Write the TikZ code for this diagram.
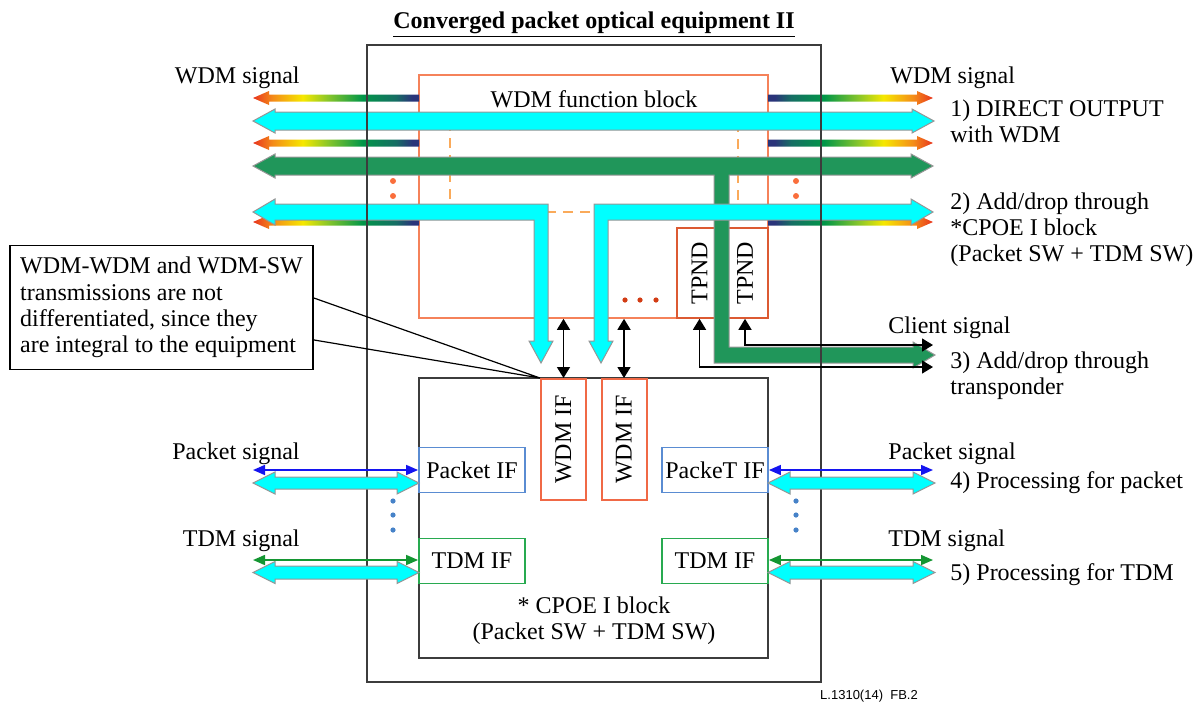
\documentclass[tikz,border=0pt]{standalone}
\usepackage{fontspec}
\setmainfont{Liberation Serif}
\newfontfamily\figidfont{Liberation Sans}
\usetikzlibrary{arrows.meta,calc}

\definecolor{rbred}{RGB}{232,52,30}
\definecolor{rborange}{RGB}{244,140,24}
\definecolor{rbyellow}{RGB}{246,232,0}
\definecolor{rbyg}{RGB}{130,196,44}
\definecolor{rbgreen}{RGB}{0,150,72}
\definecolor{rbteal}{RGB}{22,110,100}
\definecolor{rbnavy}{RGB}{42,52,122}
\definecolor{fatcyan}{RGB}{0,255,255}
\definecolor{fatgreen}{RGB}{32,150,90}
\definecolor{edgegray}{RGB}{150,150,150}
\definecolor{framegray}{RGB}{60,60,60}
\definecolor{wdmorange}{RGB}{245,130,90}
\definecolor{iforange}{RGB}{240,105,70}
\definecolor{tpndred}{RGB}{220,90,50}
\definecolor{dotorange}{RGB}{250,110,60}
\definecolor{dotred}{RGB}{210,60,20}
\definecolor{dashorange}{RGB}{250,170,90}
\definecolor{pktblue}{RGB}{90,140,210}
\definecolor{sigblue}{RGB}{20,20,240}
\definecolor{tdmgreen}{RGB}{40,170,80}
\definecolor{siggreen}{RGB}{20,150,50}
\definecolor{dotblue}{RGB}{70,130,200}

\pgfdeclarehorizontalshading{rbleft}{100bp}{color(0bp)=(rbred); color(25bp)=(rbred); color(31bp)=(rborange); color(40bp)=(rbyellow); color(48bp)=(rbyg); color(58bp)=(rbgreen); color(68bp)=(rbteal); color(73bp)=(rbnavy); color(100bp)=(rbnavy)}
\pgfdeclarehorizontalshading{rbright}{100bp}{color(0bp)=(rbnavy); color(27bp)=(rbnavy); color(32bp)=(rbteal); color(42bp)=(rbgreen); color(52bp)=(rbyg); color(60bp)=(rbyellow); color(69bp)=(rborange); color(75bp)=(rbred); color(100bp)=(rbred)}

% WDM signal leaving the block, to the left / to the right
\newcommand{\wdmleft}[1]{\shade[shading=rbleft] (253,#1) -- (269,{#1-7}) -- (269,{#1-3.5}) -- (419,{#1-3.5}) -- (419,{#1+3.5}) -- (269,{#1+3.5}) -- (269,{#1+7}) -- cycle;}
\newcommand{\wdmright}[1]{\shade[shading=rbright] (933,#1) -- (917,{#1-7}) -- (917,{#1-3.5}) -- (768,{#1-3.5}) -- (768,{#1+3.5}) -- (917,{#1+3.5}) -- (917,{#1+7}) -- cycle;}
% fat two-headed arrow: style, x1, x2, y, half shaft, half head
\newcommand{\fatdbl}[6]{\draw[#1] (#2,#4) -- ({#2+22},{#4-#6}) -- ({#2+22},{#4-#5}) -- ({#3-22},{#4-#5}) -- ({#3-22},{#4-#6}) -- (#3,#4) -- ({#3-22},{#4+#6}) -- ({#3-22},{#4+#5}) -- ({#2+22},{#4+#5}) -- ({#2+22},{#4+#6}) -- cycle;}

\begin{document}
\begin{tikzpicture}[x=0.5pt,y=-0.5pt,
  every node/.style={inner sep=0pt, font=\fontsize{12}{13.2}\selectfont},
  wdmbox/.style={draw=wdmorange, line width=0.8pt},
  ifwdm/.style={draw=iforange, line width=1pt, fill=white, minimum width=22.5pt, minimum height=60.5pt},
  tpndbox/.style={draw=tpndred, line width=0.8pt, minimum height=45pt},
  pktbox/.style={draw=pktblue, line width=0.9pt, minimum width=53pt, minimum height=22.5pt},
  tdmbox/.style={draw=tdmgreen, line width=0.9pt, minimum width=53pt, minimum height=22.5pt},
  cyanarr/.style={fill=fatcyan, draw=edgegray, line width=0.5pt},
  greenarr/.style={fill=fatgreen, draw=edgegray, line width=0.5pt},
  blkarr/.style={line width=0.7pt, {Triangle[length=5.5pt,width=6.5pt]}-{Triangle[length=5.5pt,width=6.5pt]}},
  pktarr/.style={draw=sigblue, line width=0.8pt, {Triangle[length=6pt,width=5pt]}-{Triangle[length=6pt,width=5pt]}},
  tdmarr/.style={draw=siggreen, line width=0.8pt, {Triangle[length=6pt,width=5pt]}-{Triangle[length=6pt,width=5pt]}},
  wdmdash/.style={draw=dashorange, line width=0.8pt, dash pattern=on 5pt off 3.5pt}]
\useasboundingbox (0,0) rectangle (1198,703);

\node[anchor=base, font=\bfseries\fontsize{12}{13.2}\selectfont] (title) at (594,28) {\underline{Converged packet optical equipment II}};

% WDM function block
\node[wdmbox, minimum width=174.5pt, minimum height=121.5pt] (wdmblk) at (593.5,196.5) {};
\draw[wdmdash] (450,121) rectangle (738,212);
\fill[dotorange] (393,181) circle (1.5pt) (393,196) circle (1.5pt) (796,181) circle (1.5pt) (796,196) circle (1.5pt);
\fill[dotred] (625,300) circle (1.3pt) (640,300) circle (1.3pt) (656,300) circle (1.3pt);
\node[tpndbox, minimum width=22.5pt] (tpnd1) at (699.5,273) {};
\node[tpndbox, minimum width=23pt] (tpnd2) at (745,273) {};
\node[rotate=90] (tpnd1t) at (tpnd1) {TPND};
\node[rotate=90] (tpnd2t) at (tpnd2) {TPND};

\wdmleft{98} \wdmleft{143} \wdmleft{222}
\wdmright{98} \wdmright{143} \wdmright{222}

\fatdbl{cyanarr}{253}{934}{121}{9}{12}
\draw[greenarr] (253,166) -- (275,154) -- (275,157) -- (911,157) -- (911,154) -- (933,166) -- (911,178) -- (911,175)
  -- (729,175) -- (729,347) -- (913,347) -- (913,342) -- (935,355) -- (913,368) -- (913,363) -- (714,363) -- (714,175)
  -- (275,175) -- (275,178) -- cycle;
\draw[cyanarr] (253,212) -- (275,199) -- (275,204) -- (548,204) -- (548,341) -- (553,341) -- (541,363) -- (529,341)
  -- (534,341) -- (534,220) -- (275,220) -- (275,225) -- cycle;
\draw[cyanarr] (933,212) -- (911,199) -- (911,204) -- (594,204) -- (594,341) -- (589,341) -- (601,363) -- (613,341)
  -- (608,341) -- (608,220) -- (911,220) -- (911,225) -- cycle;

\node[draw=framegray, line width=0.8pt, minimum width=227pt, minimum height=318.5pt] (outer) at (594,363.5) {};
\node[anchor=base] (wdmlbl) at (594,107) {WDM function block};

% CPOE I block
\node[draw=framegray, line width=0.8pt, minimum width=174.5pt, minimum height=140pt] (cpoe) at (593.5,518) {};
\node[align=center, anchor=north] (cpoelbl) at (594,596) {* CPOE I block\\(Packet SW + TDM SW)};
\node[ifwdm] (wdmif1) at (563.5,439.5) {};
\node[ifwdm] (wdmif2) at (624,439.5) {};
\node[rotate=90] (wdmif1t) at (wdmif1) {WDM IF};
\node[rotate=90] (wdmif2t) at (wdmif2) {WDM IF};
\node[pktbox] (pktif1) at (472,470) {Packet IF};
\node[pktbox] (pktif2) at (715,470) {PackeT IF};
\node[tdmbox] (tdmif1) at (472,561) {TDM IF};
\node[tdmbox] (tdmif2) at (715,561) {TDM IF};

\draw[blkarr] (wdmif1.north) -- (wdmif1.north |- wdmblk.south);
\draw[blkarr] (wdmif2.north) -- (wdmif2.north |- wdmblk.south);
\coordinate (cl1) at (933,367);
\coordinate (cl2) at (933,345);
\draw[blkarr] (tpnd1.south) |- (cl1);
\draw[blkarr] (tpnd2.south) |- (cl2);

% packet and TDM signals
\fatdbl{cyanarr}{253}{419}{483}{6}{11}
\fatdbl{cyanarr}{768}{935}{483}{6}{11}
\fatdbl{cyanarr}{253}{419}{572.5}{6.5}{11}
\fatdbl{cyanarr}{768}{935}{572.5}{6.5}{11}
\coordinate (pktL) at (253,470);
\coordinate (pktR) at (933,470);
\coordinate (tdmL) at (253,560);
\coordinate (tdmR) at (933,560);
\draw[pktarr] (pktL) -- (pktL -| pktif1.west);
\draw[pktarr] (pktif2.east |- pktR) -- (pktR);
\draw[tdmarr] (tdmL) -- (tdmL -| tdmif1.west);
\draw[tdmarr] (tdmif2.east |- tdmR) -- (tdmR);
\fill[dotblue] (393,501) circle (1.3pt) (393,515) circle (1.3pt) (393,530) circle (1.3pt)
  (796,501) circle (1.3pt) (796,515) circle (1.3pt) (796,530) circle (1.3pt);

% signal labels
\node[anchor=base east] (wdmsigL) at (300,83) {WDM signal};
\node[anchor=base east] (pktsigL) at (300,459) {Packet signal};
\node[anchor=base east] (tdmsigL) at (300,546) {TDM signal};
\node[anchor=base west] (wdmsigR) at (890,83) {WDM signal};
\node[anchor=base west] (clsig) at (888,333) {Client signal};
\node[anchor=base west] (pktsigR) at (888,459) {Packet signal};
\node[anchor=base west] (tdmsigR) at (888,546) {TDM signal};
\node[anchor=north west, align=left] (case1) at (950,99) {1) DIRECT OUTPUT\\with WDM};
\node[anchor=north west, align=left] (case2) at (950,192) {2) Add/drop through\\*CPOE I block\\(Packet SW + TDM SW)};
\node[anchor=north west, align=left] (case3) at (950,351) {3) Add/drop through\\transponder};
\node[anchor=base west] (case4) at (950,488) {4) Processing for packet};
\node[anchor=base west] (case5) at (950,580) {5) Processing for TDM};

% note
\node[draw, line width=0.6pt, fill=white, minimum width=151.5pt, minimum height=62pt, align=left] (note) at (161.5,307.5)
  {WDM-WDM and WDM-SW\\transmissions are not\\differentiated, since they\\are integral to the equipment};
\draw[line width=0.6pt] ($(note.north east)+(0,53)$) -- (wdmif1.north west) -- ($(note.north east)+(0,95)$);

\node[anchor=base, font=\figidfont\fontsize{6.5}{7}\selectfont] (figid) at (869,699) {L.1310(14)\ \ FB.2};
\end{tikzpicture}
\end{document}
